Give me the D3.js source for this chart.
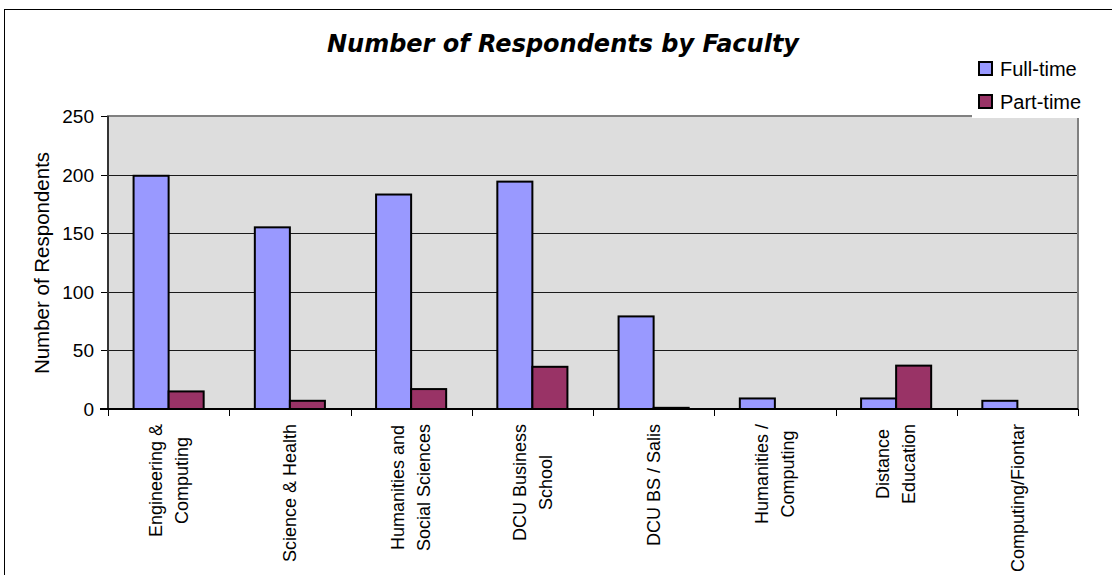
<!DOCTYPE html>
<html lang="en">
<head>
<meta charset="utf-8">
<title>Number of Respondents by Faculty</title>
<script src="https://cdn.jsdelivr.net/npm/d3@7/dist/d3.min.js"></script>
<style>
	body { margin: 0; background: #fff; }
	svg text { font-family: "Liberation Sans", Arial, sans-serif; fill: #000; }
	.axis path { display: none; }
	.axis line { stroke: #000; shape-rendering: crispEdges; }
</style>
</head>
<body>
<svg id="chart" width="1112" height="575"></svg>
<script>
	// faculty labels, already split into the lines they wrap to
	var faculties = [
		["Engineering &", "Computing"],
		["Science & Health"],
		["Humanities and", "Social Sciences"],
		["DCU Business", "School"],
		["DCU BS / Salis"],
		["Humanities /", "Computing"],
		["Distance", "Education"],
		["Computing/Fiontar"]
	];
	var seriesNames = ["Full-time", "Part-time"];
	var seriesColors = ["#9999ff", "#993366"];
	var fullTime = [199, 155, 183, 194, 79, 9, 9, 7];
	var partTime = [15, 7, 17, 36, 1, 0, 37, 0];
	var yTicks = [0, 50, 100, 150, 200, 250];

	var svg = d3.select("#chart");
	var plot = {left: 108, top: 116, right: 1078, bottom: 409};

	// outer chart border
	svg.append("rect")
		.attr("x", 4.5).attr("y", 9.5)
		.attr("width", 1130).attr("height", 600)
		.attr("fill", "none").attr("stroke", "#000");

	var idx = d3.range(faculties.length);
	var x0 = d3.scaleBand()
		.domain(idx)
		.range([plot.left, plot.right]);
	var x1 = d3.scaleBand()
		.domain([0, 1])
		.range([0, x0.bandwidth()])
		.paddingOuter(0.73);
	var y = d3.scaleLinear()
		.domain([0, 250])
		.range([plot.bottom, plot.top]);

	// plot area
	svg.append("rect")
		.attr("x", plot.left).attr("y", plot.top)
		.attr("width", plot.right - plot.left).attr("height", plot.bottom - plot.top)
		.attr("fill", "#dddddd");

	// gridlines
	svg.append("g").selectAll("line")
		.data(yTicks.filter(function(t){ return t > 0 && t < 250 }))
		.enter().append("line")
		.attr("x1", plot.left).attr("x2", plot.right)
		.attr("y1", function(t){ return Math.round(y(t)) + 0.5 })
		.attr("y2", function(t){ return Math.round(y(t)) + 0.5 })
		.attr("stroke", "#1a1a1a");

	// top / right / left borders of the plot
	svg.append("path")
		.attr("d", "M" + plot.left + "," + (plot.bottom) + "V" + plot.top + "H" + plot.right + "V" + plot.bottom)
		.attr("fill", "none").attr("stroke", "#808080").attr("stroke-width", 2);

	// bars
	var series = [fullTime, partTime];
	var groups = svg.append("g").selectAll("g")
		.data(idx)
		.enter().append("g")
		.attr("transform", function(i){ return "translate(" + x0(i) + ",0)" });
	groups.selectAll("rect")
		.data(function(i){ return series.map(function(s, k){ return {k: k, v: s[i]} }).filter(function(d){ return d.v > 0 }) })
		.enter().append("rect")
		.attr("x", function(d){ return x1(d.k) })
		.attr("y", function(d){ return y(d.v) })
		.attr("width", x1.bandwidth())
		.attr("height", function(d){ return y(0) - y(d.v) })
		.attr("fill", function(d){ return seriesColors[d.k] })
		.attr("stroke", "#000")
		.attr("stroke-width", 2);

	// y-axis
	svg.append("g")
		.attr("class", "axis")
		.attr("transform", "translate(" + plot.left + ",0)")
		.call(d3.axisLeft(y).tickValues(yTicks).tickSize(7).tickPadding(7))
		.call(function(g){
			g.selectAll("text").style("font-size", "19px").attr("dy", "0.34em");
		});
	svg.append("line")
		.attr("x1", plot.left).attr("x2", plot.left)
		.attr("y1", plot.top).attr("y2", plot.bottom)
		.attr("stroke", "#333").attr("stroke-width", 2);

	// x-axis, ticks at the category boundaries
	var xb = d3.scaleLinear().domain([0, faculties.length]).range([plot.left, plot.right]);
	svg.append("g")
		.attr("class", "axis")
		.attr("transform", "translate(0," + plot.bottom + ")")
		.call(d3.axisBottom(xb).ticks(faculties.length).tickSize(7).tickFormat(""));
	svg.append("line")
		.attr("x1", plot.left - 8).attr("x2", plot.right)
		.attr("y1", plot.bottom).attr("y2", plot.bottom)
		.attr("stroke", "#000").attr("stroke-width", 2);

	// category labels, rotated, lines centred on each other
	var labels = svg.append("g").selectAll("g")
		.data(idx)
		.enter().append("g")
		.attr("transform", function(i){ return "translate(" + (x0(i) + x0.bandwidth() / 2) + ",424) rotate(-90)" });
	labels.each(function(i){
		var g = d3.select(this);
		var lines = faculties[i];
		var texts = lines.map(function(line, j){
			return g.append("text")
				.attr("y", (j - (lines.length - 1) / 2) * 26)
				.attr("dy", "0.35em")
				.attr("text-anchor", "middle")
				.style("font-size", "18px")
				.text(line);
		});
		var maxLen = d3.max(texts, function(t){ return t.node().getComputedTextLength() });
		texts.forEach(function(t){ t.attr("x", -maxLen / 2) });
	});

	// y-axis title
	svg.append("text")
		.attr("transform", "translate(42,263) rotate(-90)")
		.attr("text-anchor", "middle")
		.attr("dy", "0.35em")
		.style("font-size", "20.5px")
		.text("Number of Respondents");

	// chart title
	svg.append("text")
		.attr("x", 563).attr("y", 52)
		.attr("text-anchor", "middle")
		.style("font-family", "'DejaVu Sans', Verdana, sans-serif")
		.style("font-weight", "bold")
		.style("font-style", "italic")
		.style("font-size", "24px")
		.text("Number of Respondents by Faculty");

	// legend
	var legend = svg.append("g");
	legend.append("rect")
		.attr("x", 972).attr("y", 52)
		.attr("width", 150).attr("height", 66)
		.attr("fill", "#fff");
	var items = legend.selectAll("g")
		.data(seriesNames)
		.enter().append("g")
		.attr("transform", function(d, i){ return "translate(979," + (62 + i * 33) + ")" });
	items.append("rect")
		.attr("width", 13).attr("height", 13)
		.attr("fill", function(d, i){ return seriesColors[i] })
		.attr("stroke", "#000").attr("stroke-width", 2);
	items.append("text")
		.attr("x", 21).attr("y", 14)
		.style("font-size", "20px")
		.text(function(d){ return d });
</script>
</body>
</html>
